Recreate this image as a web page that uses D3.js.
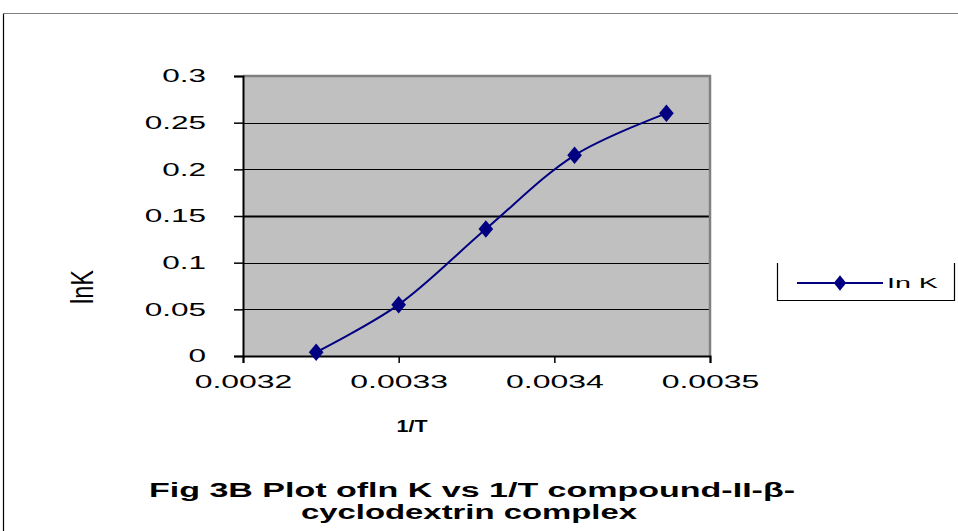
<!DOCTYPE html>
<html>
<head>
<meta charset="utf-8">
<script src="https://cdn.jsdelivr.net/npm/d3@7"></script>
<style>
  body { margin: 0; background: #fff; }
  svg { display: block; font-family: "Liberation Sans", Arial, sans-serif; }
</style>
</head>
<body>
<div id="grafico"></div>
<script>
// dados
const invT = [0.003247, 0.003300, 0.003356, 0.003413, 0.003472];
const lnK = [0.004, 0.055, 0.136, 0.215, 0.260];
const xTicks = [0.0032, 0.0033, 0.0034, 0.0035];
const yTicks = [0, 0.05, 0.1, 0.15, 0.2, 0.25, 0.3];
const seriesName = 'In K';

const largura = 958, altura = 531;
const margin = { top: 76, left: 243, right: 248, bottom: 175 };

// esticar texto na horizontal (o original tem letras largas)
function esticar(sel, fator) {
    sel.each(function () {
        const w = this.getComputedTextLength();
        d3.select(this)
            .attr('textLength', w * fator)
            .attr('lengthAdjust', 'spacingAndGlyphs');
    });
}

const svg = d3.select('#grafico').append('svg')
    .attr('width', largura)
    .attr('height', altura);

// moldura do gráfico
svg.append('path')
    .attr('d', `M3.5,${altura} V13.5`)
    .attr('stroke', '#000')
    .attr('stroke-width', 1.2);
svg.append('line')
    .attr('x1', 3).attr('x2', largura).attr('y1', 13.5).attr('y2', 13.5)
    .attr('stroke', '#808080').attr('stroke-width', 1.2);

const x = d3.scaleLinear()
    .domain([0.0032, 0.0035])
    .range([margin.left, largura - margin.right]);

const y = d3.scaleLinear()
    .domain([0, 0.3])
    .range([altura - margin.bottom, margin.top]);

// área de plotagem
svg.append('rect')
    .attr('x', x(0.0032)).attr('y', y(0.3))
    .attr('width', x(0.0035) - x(0.0032))
    .attr('height', y(0) - y(0.3))
    .attr('fill', '#c0c0c0');

// linhas de grade
svg.append('g')
    .selectAll('line')
    .data(yTicks.filter(d => d > 0 && d < 0.3))
    .enter().append('line')
    .attr('x1', x(0.0032)).attr('x2', x(0.0035))
    .attr('y1', d => Math.round(y(d)) + 0.5)
    .attr('y2', d => Math.round(y(d)) + 0.5)
    .attr('stroke', '#000')
    .attr('stroke-width', d => d === 0.15 ? 2 : 1);

// borda cinza superior e direita
svg.append('path')
    .attr('d', `M${x(0.0032)},${y(0.3)} H${x(0.0035)} V${y(0)}`)
    .attr('fill', 'none')
    .attr('stroke', '#808080')
    .attr('stroke-width', 2.5);

// eixos
const eixoX = svg.append('g')
    .attr('transform', `translate(0, ${y(0)})`)
    .call(d3.axisBottom(x).tickValues(xTicks).tickSize(7).tickPadding(12)
        .tickFormat(d3.format('.4f')));

const eixoY = svg.append('g')
    .attr('transform', `translate(${x(0.0032)}, 0)`)
    .call(d3.axisLeft(y).tickValues(yTicks).tickSize(9).tickPadding(28)
        .tickFormat(d => d === 0 ? '0' : String(+d.toFixed(2))));

[eixoX, eixoY].forEach(g => {
    g.select('.domain').attr('stroke', '#000').attr('stroke-width', 2);
    g.selectAll('.tick line').attr('stroke', '#000').attr('stroke-width', 1.5);
    g.selectAll('.tick text')
        .attr('fill', '#000')
        .style('font-family', '"Liberation Sans", Arial, sans-serif');
});
eixoX.selectAll('.tick text').style('font-size', '19px');
eixoY.selectAll('.tick text').style('font-size', '18px');
esticar(eixoX.selectAll('.tick text'), 1.68);
esticar(eixoY.selectAll('.tick text'), 1.75);

// linha suavizada
const pontos = invT.map((v, i) => ({ x: v, y: lnK[i] }));
const linha = d3.line()
    .x(d => x(d.x))
    .y(d => y(d.y))
    .curve(d3.curveCatmullRom.alpha(0.5));

svg.append('path')
    .datum(pontos)
    .attr('d', linha)
    .attr('fill', 'none')
    .attr('stroke', '#000080')
    .attr('stroke-width', 2);

const diamante = d3.symbol().type(d3.symbolDiamond).size(110);
svg.append('g')
    .selectAll('path')
    .data(pontos)
    .enter().append('path')
    .attr('d', diamante)
    .attr('transform', d => `translate(${x(d.x)},${y(d.y)}) scale(1.3,0.9)`)
    .attr('fill', '#000080');

// títulos dos eixos
svg.append('text')
    .attr('transform', 'translate(93, 287) rotate(-90)')
    .attr('text-anchor', 'middle')
    .style('font-size', '31px')
    .attr('textLength', 34)
    .attr('lengthAdjust', 'spacingAndGlyphs')
    .text('lnK');

svg.append('text')
    .attr('x', 412).attr('y', 432)
    .attr('text-anchor', 'middle')
    .style('font-size', '17px')
    .style('font-weight', 'bold')
    .attr('textLength', 31)
    .attr('lengthAdjust', 'spacingAndGlyphs')
    .text('1/T');

// título
const titulo = svg.append('g')
    .style('font-size', '20px')
    .style('font-weight', 'bold');
titulo.append('text')
    .attr('x', 149).attr('y', 497)
    .attr('textLength', 646)
    .attr('lengthAdjust', 'spacingAndGlyphs')
    .text('Fig 3B Plot ofln K vs 1/T compound-II-β-');
titulo.append('text')
    .attr('x', 301).attr('y', 519)
    .attr('textLength', 336)
    .attr('lengthAdjust', 'spacingAndGlyphs')
    .text('cyclodextrin complex');

// legenda
const leg = svg.append('g');
leg.append('path')
    .attr('d', 'M777.5,263 V300.5 H954.5 V263')
    .attr('fill', 'none')
    .attr('stroke', '#000')
    .attr('stroke-width', 1.2);
leg.append('line')
    .attr('x1', 797).attr('x2', 883).attr('y1', 283).attr('y2', 283)
    .attr('stroke', '#000080').attr('stroke-width', 2);
leg.append('path')
    .attr('d', diamante)
    .attr('transform', 'translate(840,283) scale(1.1,0.8)')
    .attr('fill', '#000080');
leg.append('text')
    .attr('x', 887).attr('y', 288)
    .style('font-size', '15px')
    .attr('textLength', 51)
    .attr('lengthAdjust', 'spacingAndGlyphs')
    .text(seriesName);
</script>
</body>
</html>
